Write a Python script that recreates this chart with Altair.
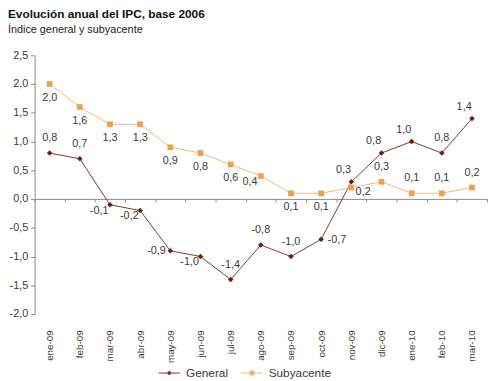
import altair as alt
import pandas as pd

months = ["ene-09", "feb-09", "mar-09", "abr-09", "may-09", "jun-09", "jul-09",
          "ago-09", "sep-09", "oct-09", "nov-09", "dic-09", "ene-10", "feb-10", "mar-10"]
general = [0.8, 0.7, -0.1, -0.2, -0.9, -1.0, -1.4, -0.8, -1.0, -0.7, 0.3, 0.8, 1.0, 0.8, 1.4]
subyacente = [2.0, 1.6, 1.3, 1.3, 0.9, 0.8, 0.6, 0.4, 0.1, 0.1, 0.2, 0.3, 0.1, 0.1, 0.2]
general_label_pos = ["above", "above", "belowleft", "belowleft", "left", "belowleft", "above",
                     "above", "above", "right", "aboveleft", "aboveleft", "aboveleft", "above", "aboveleft"]
subyacente_label_pos = ["below", "below", "below", "below", "below", "below", "below",
                        "belowleft", "below", "below", "belowright", "above", "above", "above", "above"]
series = ["General", "Subyacente"]
y_ticks = [-2.0, -1.5, -1.0, -0.5, 0.0, 0.5, 1.0, 1.5, 2.0, 2.5]

rows = []
for m, v, p in zip(months, general, general_label_pos):
    rows.append({"mes": m, "serie": "General", "valor": v, "pos": p})
for m, v, p in zip(months, subyacente, subyacente_label_pos):
    rows.append({"mes": m, "serie": "Subyacente", "valor": v, "pos": p})
df = pd.DataFrame(rows)

FONT = "Liberation Sans"
marker_colors = ["#6A2313", "#EEA04E"]
line_colors = ["#7E3A28", "#F4B878"]
TEXT = "#3a3a3a"
AXIS = "#8a8a8a"
FMT = "replace(replace(format({v}, '.1f'), '.', ','), '\u2212', '-')"

x = alt.X(
    "mes:N", sort=months, bandPosition=0.5,
    scale=alt.Scale(type="band", paddingInner=0, paddingOuter=0),
    axis=alt.Axis(title=None, labelAngle=-90, offset=-117, labelPadding=130,
                  tickBand="extent", tickSize=3, domainColor=AXIS, tickColor=AXIS,
                  labelColor=TEXT, labelFont=FONT, labelFontSize=10, grid=False),
)
y = alt.Y(
    "valor:Q",
    scale=alt.Scale(domain=[-2.0, 2.5], nice=False, zero=False),
    axis=alt.Axis(title=None, values=y_ticks, grid=False, tickSize=4,
                  labelExpr=FMT.format(v="datum.value"),
                  domainColor=AXIS, tickColor=AXIS, labelColor=TEXT,
                  labelFont=FONT, labelFontSize=11, labelPadding=3),
)

base = alt.Chart(df)

diamond_path = "M-2.2,0H2.2M-0.36,0L0,-0.42L0.36,0L0,0.42Z"
square_path = "M-2.2,0H2.2M-0.4,-0.4H0.4V0.4H-0.4Z"
leg = alt.Legend(title=None, orient="none", direction="horizontal", legendX=131, legendY=317,
                 labelFont=FONT, labelFontSize=12, labelColor=TEXT, labelOffset=11,
                 columnPadding=11, symbolSize=100, symbolStrokeWidth=1, symbolOpacity=1)
legend_layer = base.mark_point(filled=True, opacity=0).encode(
    x=x, y=y,
    fill=alt.Fill("serie:N", scale=alt.Scale(domain=series, range=marker_colors), legend=leg),
    stroke=alt.Stroke("serie:N", scale=alt.Scale(domain=series, range=line_colors), legend=leg),
    shape=alt.Shape("serie:N", scale=alt.Scale(domain=series, range=[diamond_path, square_path]), legend=leg),
)

lines = base.mark_line(strokeWidth=1).encode(
    x=x, y=y, detail="serie:N",
    stroke=alt.Stroke("serie:N", scale=alt.Scale(domain=series, range=line_colors), legend=leg),
)
pts_gen = base.transform_filter("datum.serie == 'General'").mark_point(
    shape="diamond", filled=True, size=32, opacity=1, color=marker_colors[0]
).encode(x=x, y=y)
pts_sub = base.transform_filter("datum.serie == 'Subyacente'").mark_point(
    shape="square", filled=True, size=34, opacity=1, color=marker_colors[1]
).encode(x=x, y=y)

offsets = {
    "above": (0, -15),
    "below": (0, 14),
    "left": (-14, 0),
    "right": (16, 1),
    "belowleft": (-11, 6),
    "aboveleft": (-8, -12),
    "belowright": (12, 5),
}
labels = []
for code, (dx, dy) in offsets.items():
    labels.append(
        base.transform_filter(alt.datum.pos == code)
        .transform_calculate(txt=FMT.format(v="datum.valor"))
        .mark_text(dx=dx, dy=dy, align="center", baseline="middle",
                   font=FONT, fontSize=11, color=TEXT)
        .encode(x=x, y=y, text="txt:N")
    )

chart = alt.layer(legend_layer, lines, pts_gen, pts_sub, *labels).properties(
    width=460, height=263,
    padding={"left": 27, "top": 45, "right": 5, "bottom": 65},
    autosize=alt.AutoSizeParams(type="none"),
    background="white",
    title=alt.TitleParams(
        "Evolución anual del IPC, base 2006",
        subtitle="Índice general y subyacente",
        anchor="start", frame="group", dx=-27, offset=14,
        font=FONT, fontSize=12, fontWeight="bold", color="#111111",
        subtitleFont=FONT, subtitleFontSize=11, subtitleColor="#222222", subtitlePadding=3,
    ),
).configure_view(stroke=None)

chart.save("out.html", embed_options={"renderer": "svg", "actions": False})
